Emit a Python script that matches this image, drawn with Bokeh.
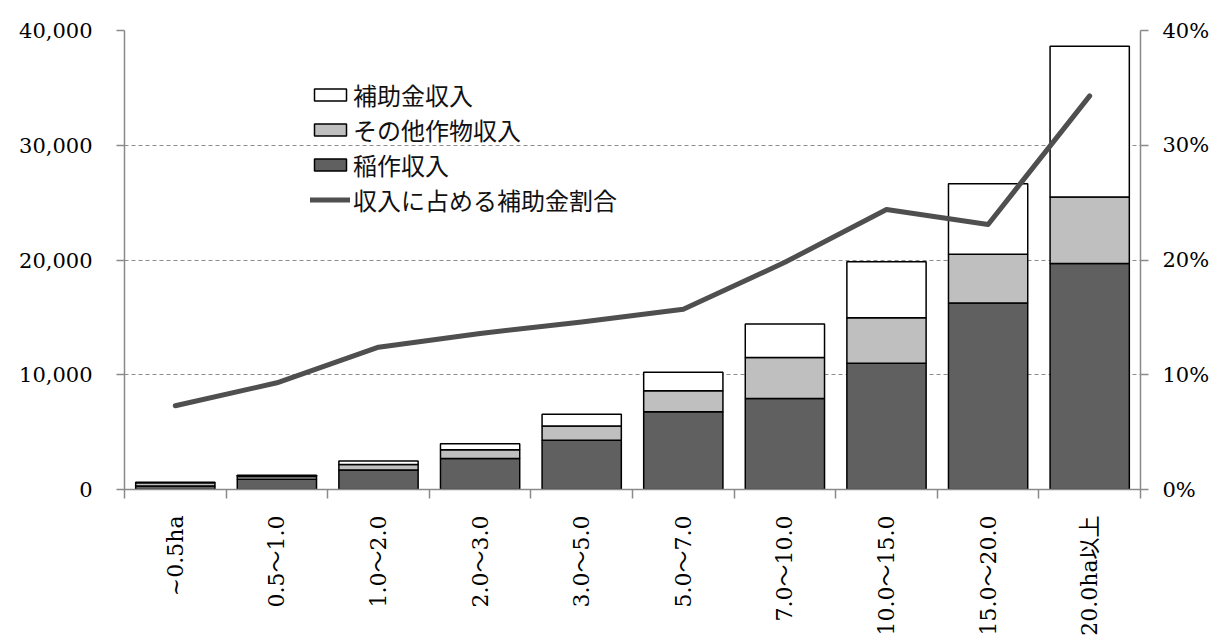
from bokeh.plotting import figure
from bokeh.models import (ColumnDataSource, Range1d, LinearAxis, FixedTicker,
                          Legend, LegendItem)
from bokeh.embed import file_html
from bokeh.resources import INLINE
import math

# ---- data ----
categories = ["~0.5ha", "0.5～1.0", "1.0～2.0", "2.0～3.0", "3.0～5.0",
              "5.0～7.0", "7.0～10.0", "10.0～15.0", "15.0～20.0", "20.0ha以上"]
rice_income = [300, 900, 1700, 2700, 4300, 6780, 7940, 11000, 16250, 19700]
other_crop_income = [280, 230, 480, 760, 1240, 1830, 3560, 3970, 4260, 5780]
subsidy_income = [50, 115, 300, 530, 1020, 1610, 2920, 4880, 6130, 13150]
subsidy_share_pct = [7.3, 9.3, 12.4, 13.6, 14.6, 15.7, 19.8, 24.4, 23.1, 34.3]
series_names = ["稲作収入", "その他作物収入", "補助金収入", "収入に占める補助金割合"]
left_ticks = [0, 10000, 20000, 30000, 40000]
right_ticks = [0, 10, 20, 30, 40]

n = len(categories)
xs = [i + 0.5 for i in range(n)]
src = ColumnDataSource(dict(x=xs, rice=rice_income, other=other_crop_income,
                            subsidy=subsidy_income, pct=subsidy_share_pct))

SERIF = "DejaVu Serif, Noto Sans CJK JP"
AXIS_GRAY = "#8a8a8a"

p = figure(frame_width=1016, frame_height=459, output_backend="svg",
           toolbar_location=None,
           x_range=Range1d(0, n), y_range=Range1d(0, 40000),
           min_border_left=124, min_border_right=71, min_border_top=30,
           min_border_bottom=100)
p.outline_line_color = None
p.background_fill_color = "white"
p.border_fill_color = "white"

p.extra_y_ranges = {"pct": Range1d(0, 40)}

bars = p.vbar_stack(["rice", "other", "subsidy"], x="x", width=0.78, source=src,
                    fill_color=["#606060", "#bfbfbf", "#ffffff"],
                    line_color="black", line_width=1.5)

ln = p.line("x", "pct", source=src, y_range_name="pct", line_color="#4f4f4f",
            line_width=5, line_cap="round", line_join="round")

# ---- axes ----
xa = p.xaxis[0]
xa.ticker = FixedTicker(ticks=xs, minor_ticks=list(range(n + 1)))
xa.major_label_overrides = {x: c for x, c in zip(xs, categories)}
xa.major_label_orientation = math.pi / 2
xa.major_tick_line_color = None
xa.major_tick_out = 0
xa.major_tick_in = 0
xa.minor_tick_line_color = AXIS_GRAY
xa.minor_tick_out = 9
xa.minor_tick_in = 0
xa.minor_tick_line_width = 1.5
xa.axis_line_color = AXIS_GRAY
xa.axis_line_width = 1.5
xa.major_label_text_font = SERIF
xa.major_label_text_font_size = "22px"
xa.major_label_text_color = "black"
xa.major_label_standoff = 17

ya = p.yaxis[0]
ya.ticker = FixedTicker(ticks=left_ticks)
ya.major_label_overrides = {t: f"{t:,}" for t in left_ticks}
ya.minor_tick_line_color = None
ya.major_tick_out = 8
ya.major_tick_in = 0
ya.major_tick_line_color = AXIS_GRAY
ya.major_tick_line_width = 1.5
ya.axis_line_color = AXIS_GRAY
ya.axis_line_width = 1.5
ya.major_label_text_font = SERIF
ya.major_label_text_font_size = "21px"
ya.major_label_text_color = "black"
ya.major_label_standoff = 24

ra = LinearAxis(y_range_name="pct", ticker=FixedTicker(ticks=right_ticks))
ra.major_label_overrides = {t: f"{t}%" for t in right_ticks}
ra.minor_tick_line_color = None
ra.major_tick_out = 8
ra.major_tick_in = 0
ra.major_tick_line_color = AXIS_GRAY
ra.major_tick_line_width = 1.5
ra.axis_line_color = AXIS_GRAY
ra.axis_line_width = 1.5
ra.major_label_text_font = SERIF
ra.major_label_text_font_size = "21px"
ra.major_label_text_color = "black"
ra.major_label_standoff = 14
p.add_layout(ra, "right")

p.xgrid.grid_line_color = None
p.ygrid.ticker = FixedTicker(ticks=left_ticks[1:])
p.ygrid.grid_line_color = "#8c8c8c"
p.ygrid.grid_line_dash = "4 3"
p.ygrid.grid_line_width = 1

# ---- legend ----
items = [LegendItem(label=series_names[2], renderers=[bars[2]]),
         LegendItem(label=series_names[1], renderers=[bars[1]]),
         LegendItem(label=series_names[0], renderers=[bars[0]]),
         LegendItem(label=series_names[3], renderers=[ln])]
leg = Legend(items=items, location=(186, 272), orientation="vertical",
             glyph_width=40, glyph_height=15, label_standoff=3,
             label_text_font="Noto Sans CJK JP", label_text_font_size="24px",
             label_text_color="#111111", label_height=30, spacing=0,
             padding=0, margin=0, border_line_color=None,
             background_fill_alpha=0)
p.add_layout(leg, "center")

open("out.html", "w").write(file_html(p, INLINE))
